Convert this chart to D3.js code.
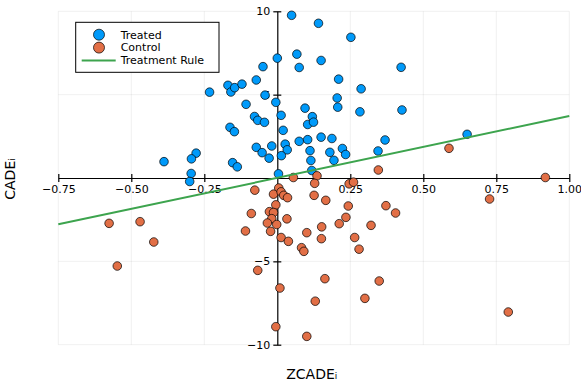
<!DOCTYPE html>
<html>
<head>
<meta charset="utf-8">
<script src="https://cdn.jsdelivr.net/npm/d3@7"></script>
<style>
  body { margin: 0; background: #fff; }
  text { font-family: "DejaVu Sans", sans-serif; }
</style>
</head>
<body>
<script>
// treated units: ZCADE_i, CADE_i
const treatedX = [0.049, 0.141, 0.252, 0.067, 0.000, 0.150, -0.049, 0.075, 0.424, -0.072,
  0.210, -0.232, -0.169, -0.159, -0.146, -0.121, -0.042, 0.287, 0.205, -0.005,
  -0.107, 0.207, 0.095, 0.283, 0.427, -0.078, -0.067, -0.044, 0.013, 0.120,
  0.104, 0.124, 0.020, -0.162, -0.147, 0.075, 0.104, 0.150, 0.187, 0.369,
  0.650, -0.072, -0.052, -0.019, 0.027, 0.034, -0.028, 0.014, 0.112, 0.180,
  0.223, 0.234, 0.345, 0.115, 0.194, 0.118, -0.153, -0.137, -0.278, -0.294,
  -0.388, -0.295, -0.300, 0.004]
const treatedY = [9.76, 9.28, 8.44, 7.43, 7.19, 7.05, 6.68, 6.63, 6.64, 5.88,
  5.93, 5.15, 5.56, 5.16, 5.42, 5.63, 4.97, 5.35, 4.80, 4.54,
  4.42, 4.25, 4.19, 3.97, 4.08, 3.69, 3.46, 3.34, 3.76, 3.68,
  3.21, 3.35, 2.86, 3.04, 2.78, 2.20, 2.30, 2.45, 2.37, 2.28,
  2.62, 1.84, 1.52, 1.92, 2.03, 1.69, 1.19, 1.34, 1.64, 1.54,
  1.77, 1.41, 1.62, 1.05, 1.06, 0.45, 0.92, 0.67, 1.49, 1.15,
  0.98, 0.27, -0.21, 0.25]

// control units
const controlX = [0.055, 0.136, 0.346, 0.588, 0.918, 0.727, -0.077, 0.005, -0.013, 0.013,
  0.022, 0.035, -0.005, 0.128, 0.246, 0.261, 0.126, 0.166, 0.243, 0.372,
  0.405, 0.235, 0.212, 0.321, 0.152, -0.089, -0.027, -0.013, -0.019, 0.033,
  -0.034, -0.002, -0.109, -0.023, 0.101, 0.151, 0.265, 0.013, 0.038, 0.083,
  0.091, 0.280, -0.576, -0.470, -0.423, -0.548, -0.067, 0.163, 0.349, 0.009,
  0.300, 0.130, 0.791, -0.005, 0.101]
const controlY = [0.03, 0.13, 0.48, 1.78, 0.03, -1.26, -0.73, -0.60, -0.97, -0.83,
  -1.04, -1.18, -1.61, -0.32, -0.35, -0.25, -1.04, -1.34, -1.68, -1.66,
  -2.10, -2.36, -2.74, -2.84, -2.93, -2.13, -2.02, -2.07, -2.44, -2.45,
  -2.70, -2.79, -3.18, -3.20, -3.28, -3.64, -3.57, -3.57, -3.80, -4.18,
  -4.40, -4.27, -2.72, -2.62, -3.84, -5.28, -5.54, -6.04, -6.18, -6.60,
  -7.22, -7.39, -8.04, -8.92, -9.50]

// treatment rule line endpoints
const ruleX = [-0.75, 1.0]
const ruleY = [-2.78, 3.72]

const xTicks = [-0.75, -0.5, -0.25, 0.25, 0.5, 0.75, 1.0]
const yTicks = [-10, -5, 5, 10]

const legendItems = ["Treated", "Control", "Treatment Rule"]
const colors = ["#009AFA", "#E26F46", "#3DA44E"]

const width = 581, height = 388

const svg = d3.select('body').append('svg')
    .attr('width', width)
    .attr('height', height)

const x = d3.scaleLinear().domain([-0.75, 1.0]).range([58.3, 569.3])
const y = d3.scaleLinear().domain([-10, 10]).range([344.7, 11.3])

// grid
const grid = svg.append('g')
grid.selectAll('line.gx')
    .data(xTicks)
    .enter()
    .append('line')
    .attr('x1', d => x(d)).attr('x2', d => x(d))
    .attr('y1', y(-10)).attr('y2', y(10))
    .attr('stroke', '#000').attr('stroke-opacity', 0.1).attr('stroke-width', 0.6)
grid.selectAll('line.gy')
    .data(yTicks)
    .enter()
    .append('line')
    .attr('y1', d => y(d)).attr('y2', d => y(d))
    .attr('x1', x(-0.75)).attr('x2', x(1.0))
    .attr('stroke', '#000').attr('stroke-opacity', 0.1).attr('stroke-width', 0.6)

// axes through the origin
const xAxis = svg.append('g')
    .attr('transform', `translate(0,${y(0)})`)
    .call(d3.axisBottom(x).tickValues(xTicks).tickFormat(d3.format('.2f')).tickSizeOuter(0))
const yAxis = svg.append('g')
    .attr('transform', `translate(${x(0)},0)`)
    .call(d3.axisLeft(y).tickValues(yTicks).tickFormat(d3.format('d')).tickSizeOuter(0))

xAxis.selectAll('.tick line').attr('y1', -4).attr('y2', 4)
xAxis.selectAll('.tick text').attr('y', 7).attr('font-size', 11)
yAxis.selectAll('.tick line').attr('x1', -4).attr('x2', 4)
yAxis.selectAll('.tick text').attr('x', -7).attr('font-size', 11)
svg.selectAll('.domain').attr('stroke-width', 1.2)
svg.selectAll('.tick line').attr('stroke-width', 1.2)
svg.selectAll('.tick text').attr('font-family', '"DejaVu Sans", sans-serif').attr('fill', '#000')

// series
const treated = treatedX.map((v, i) => ({ x: v, y: treatedY[i] }))
const control = controlX.map((v, i) => ({ x: v, y: controlY[i] }))

svg.append('g').selectAll('circle')
    .data(treated)
    .enter()
    .append('circle')
    .attr('cx', d => x(d.x))
    .attr('cy', d => y(d.y))
    .attr('r', 4.3)
    .attr('fill', colors[0])
    .attr('stroke', '#000')
    .attr('stroke-width', 0.7)

svg.append('g').selectAll('circle')
    .data(control)
    .enter()
    .append('circle')
    .attr('cx', d => x(d.x))
    .attr('cy', d => y(d.y))
    .attr('r', 4.3)
    .attr('fill', colors[1])
    .attr('stroke', '#000')
    .attr('stroke-width', 0.7)

const rule = ruleX.map((v, i) => ({ x: v, y: ruleY[i] }))
svg.append('path')
    .datum(rule)
    .attr('d', d3.line().x(d => x(d.x)).y(d => y(d.y)))
    .attr('fill', 'none')
    .attr('stroke', colors[2])
    .attr('stroke-width', 2)

// axis labels
svg.append('text')
    .attr('x', (x(-0.75) + x(1.0)) / 2 - 2)
    .attr('y', 379)
    .attr('text-anchor', 'middle')
    .attr('font-size', 14)
    .text('ZCADEᵢ')
svg.append('text')
    .attr('transform', `translate(15,${(y(-10) + y(10)) / 2 + 1}) rotate(-90)`)
    .attr('text-anchor', 'middle')
    .attr('font-size', 14)
    .text('CADEᵢ')

// legend
const legend = svg.append('g')
legend.append('rect')
    .attr('x', 75.7).attr('y', 22.3)
    .attr('width', 143.3).attr('height', 50)
    .attr('fill', '#fff').attr('stroke', '#000').attr('stroke-width', 1)
legendItems.forEach((name, i) => {
    const ly = 34.7 + i * 12.9
    if (i < 2) {
        legend.append('circle')
            .attr('cx', 99).attr('cy', ly).attr('r', 5.5)
            .attr('fill', colors[i]).attr('stroke', '#000').attr('stroke-width', 0.7)
    } else {
        legend.append('line')
            .attr('x1', 81.7).attr('x2', 115.7)
            .attr('y1', ly).attr('y2', ly)
            .attr('stroke', colors[i]).attr('stroke-width', 2)
    }
    legend.append('text')
        .attr('x', 120.7).attr('y', ly)
        .attr('dy', '0.35em')
        .attr('font-size', 11)
        .text(name)
})
</script>
</body>
</html>
